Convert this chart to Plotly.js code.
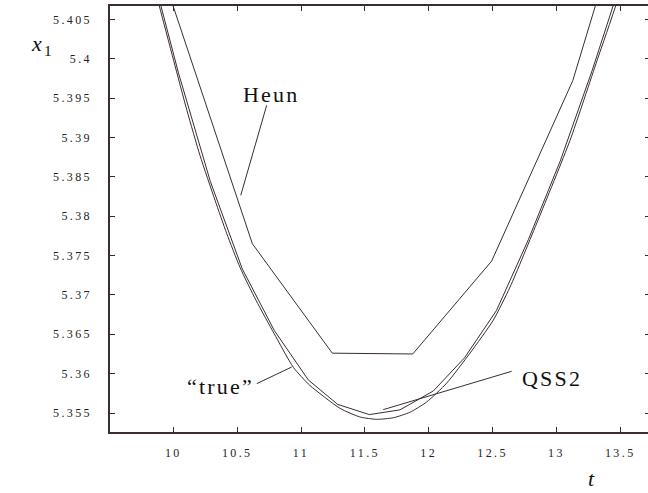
<!DOCTYPE html>
<html>
<head>
<meta charset="utf-8">
<script src="https://cdn.plot.ly/plotly-3.0.1.min.js"></script>
<style>
html, body { margin: 0; padding: 0; overflow: hidden; background: #fff; }
#chart { width: 650px; height: 493px; }
.xtick text, .ytick text { letter-spacing: 2.4px; }
.annotation-text { letter-spacing: 2.2px; }
</style>
</head>
<body>
<div id="chart"></div>
<script>
// "true" solution
const tTrue = [9.80, 9.890, 10.002, 10.107, 10.209, 10.327, 10.418, 10.522, 10.648, 10.789, 10.940, 11.070, 11.305, 11.461, 11.593, 11.723, 11.853, 11.984, 12.141, 12.323, 12.506, 12.637, 12.856, 13.106, 13.319, 13.464, 13.56];
const vTrue = [5.4124, 5.4067, 5.3998, 5.3934, 5.3877, 5.3820, 5.3778, 5.3735, 5.3693, 5.3651, 5.3608, 5.3585, 5.3556, 5.3545, 5.3542, 5.3544, 5.3551, 5.3564, 5.3588, 5.3626, 5.3668, 5.3710, 5.3795, 5.3896, 5.3998, 5.4067, 5.4120];

// QSS2 approximation
const tQss2 = [9.79, 10.04, 10.29, 10.54, 10.79, 11.057, 11.287, 11.535, 11.775, 12.036, 12.28, 12.53, 12.78, 13.03, 13.28, 13.53];
const vQss2 = [5.4137, 5.3982, 5.3844, 5.3733, 5.3655, 5.3592, 5.3561, 5.3548, 5.3554, 5.3578, 5.3620, 5.3680, 5.3770, 5.3870, 5.3985, 5.4110];

// Heun approximation
const tHeun = [9.992, 10.619, 11.245, 11.875, 12.493, 13.128, 13.755];
const vHeun = [5.4070, 5.3765, 5.3626, 5.3625, 5.3743, 5.3972, 5.4309];

// axis ticks
const xTickVals = [10, 10.5, 11, 11.5, 12, 12.5, 13, 13.5];
const xTickText = ['10', '10.5', '11', '11.5', '12', '12.5', '13', '13.5'];
const yTickVals = [5.355, 5.36, 5.365, 5.37, 5.375, 5.38, 5.385, 5.39, 5.395, 5.4, 5.405];
const yTickText = ['5.355', '5.36', '5.365', '5.37', '5.375', '5.38', '5.385', '5.39', '5.395', '5.4', '5.405'];

// curve labels and pointers
const labelText = ['Heun', '\u201ctrue\u201d', 'QSS2'];
const labelT = [10.762, 10.366, 12.968];
const labelV = [5.39548, 5.35835, 5.35941];
const ptrT0 = [10.731, 10.653, 12.650];
const ptrV0 = [5.39408, 5.35873, 5.36030];
const ptrT1 = [10.528, 10.927, 11.644];
const ptrV1 = [5.38265, 5.36084, 5.35543];

const ink = '#3a2c33';
const lineStyle = { color: ink, width: 1 };
const serif = "'Liberation Serif', 'Times New Roman', Times, serif";

const traces = [
  { x: tTrue, y: vTrue, mode: 'lines', line: Object.assign({ shape: 'spline', smoothing: 0.6 }, lineStyle), name: 'true', hoverinfo: 'skip' },
  { x: tQss2, y: vQss2, mode: 'lines', line: lineStyle, name: 'QSS2', hoverinfo: 'skip' },
  { x: tHeun, y: vHeun, mode: 'lines', line: lineStyle, name: 'Heun', hoverinfo: 'skip' }
];

const labelFont = { family: serif, size: 22, color: '#111' };
const annotations = labelText.map((s, i) => ({
  x: labelT[i], y: labelV[i], xref: 'x', yref: 'y', text: s, showarrow: false,
  font: labelFont
}));
annotations.push({ xref: 'paper', yref: 'paper', x: -0.150, y: 0.945, text: '<i>x</i><sub>1</sub>', showarrow: false,
  font: labelFont });
annotations.push({ xref: 'paper', yref: 'paper', x: 0.9045, y: -0.143, text: '<i>t</i>', showarrow: false,
  font: labelFont });

const shapes = ptrT0.map((t0, i) => ({
  type: 'line', xref: 'x', yref: 'y', x0: t0, y0: ptrV0[i], x1: ptrT1[i], y1: ptrV1[i],
  line: { color: ink, width: 1 }
}));

const tickFont = { family: serif, size: 12, color: '#222' };

const layout = {
  width: 650, height: 493,
  margin: { l: 110, r: 0, t: 6, b: 61 },
  paper_bgcolor: '#fff', plot_bgcolor: '#fff',
  showlegend: false,
  xaxis: {
    range: [9.504, 13.733], showgrid: false, zeroline: false,
    showline: true, linecolor: ink, linewidth: 1.6, mirror: 'ticks',
    ticks: 'inside', ticklen: 5, tickwidth: 1, tickcolor: ink,
    tickvals: xTickVals, ticktext: xTickText, tickfont: tickFont, ticklabelstandoff: 9
  },
  yaxis: {
    range: [5.35259, 5.40669], showgrid: false, zeroline: false,
    showline: true, linecolor: ink, linewidth: 1.6, mirror: 'ticks',
    ticks: 'inside', ticklen: 5, tickwidth: 1, tickcolor: ink,
    tickvals: yTickVals, ticktext: yTickText, tickfont: tickFont, ticklabelstandoff: 14
  },
  annotations: annotations,
  shapes: shapes
};

Plotly.newPlot('chart', traces, layout, { displayModeBar: false, staticPlot: true });
</script>
</body>
</html>
